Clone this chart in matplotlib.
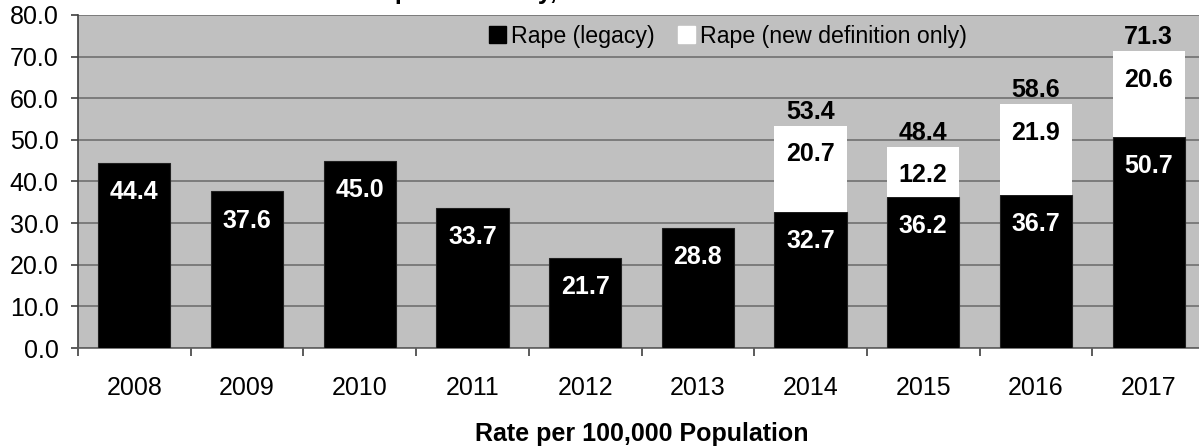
import numpy as np
import matplotlib
matplotlib.use("Agg")
import matplotlib.pyplot as plt
from matplotlib.patches import Patch

plt.rcParams['font.family'] = ['Liberation Sans', 'DejaVu Sans']

years = ["2008", "2009", "2010", "2011", "2012", "2013", "2014", "2015", "2016", "2017"]
legacy = [44.4, 37.6, 45.0, 33.7, 21.7, 28.8, 32.7, 36.2, 36.7, 50.7]
new_def = [0.0, 0.0, 0.0, 0.0, 0.0, 0.0, 20.7, 12.2, 21.9, 20.6]
yticks = [0, 10, 20, 30, 40, 50, 60, 70, 80]
series_names = ["Rape (legacy)", "Rape (new definition only)"]
title_text = "Rape in the City, 2008 to 2017"
xlabel_text = "Rate per 100,000 Population"

W, H = 1199, 446
fig = plt.figure(figsize=(W / 100, H / 100), dpi=100)
ax = fig.add_axes([78 / W, (H - 348) / H, 1127 / W, 333 / H])
ax.set_facecolor('#c0c0c0')

x = np.arange(len(years))
bw = 0.64
legacy_a = np.array(legacy)
new_a = np.array(new_def)

ax.bar(x, legacy_a, width=bw, color='black', edgecolor='#202020', linewidth=0.8, zorder=3)
ax.bar(x, new_a, width=bw, bottom=legacy_a, color='white', edgecolor='white', linewidth=0, zorder=3)

ax.set_xlim(-0.5, len(years) - 0.5)
ax.set_ylim(0, 80)
ax.set_yticks(yticks)
ax.set_yticklabels([f"{v:.1f}" for v in yticks], fontsize=18)
ax.yaxis.grid(True, color='#707070', linewidth=1.2, zorder=1)
ax.set_axisbelow(True)

# x ticks at category boundaries, labels at centers
ax.set_xticks(np.arange(-0.5, len(years), 1.0))
ax.set_xticklabels([])
ax.set_xticks(x, minor=True)
ax.set_xticklabels(years, minor=True, fontsize=18)
ax.tick_params(axis='x', which='major', length=6, width=1.2, color='#404040', direction='out')
ax.tick_params(axis='x', which='minor', length=0, pad=20)
ax.tick_params(axis='y', length=5, width=1.2, color='#404040', pad=9)

for s in ['top', 'right']:
    ax.spines[s].set_visible(False)
ax.spines['left'].set_color('#404040')
ax.spines['bottom'].set_color('#606060')
ax.spines['left'].set_linewidth(1.2)
ax.spines['bottom'].set_linewidth(1.2)

# value labels
for i in range(len(years)):
    ax.annotate(f"{legacy_a[i]:.1f}", (x[i], legacy_a[i]), xytext=(0, -21), textcoords='offset points',
                ha='center', va='center', color='white', fontsize=18, fontweight='bold', zorder=5)
    if new_a[i] > 0:
        top = legacy_a[i] + new_a[i]
        ax.annotate(f"{new_a[i]:.1f}", (x[i], top), xytext=(0, -20.5), textcoords='offset points',
                    ha='center', va='center', color='black', fontsize=18, fontweight='bold', zorder=5)
        ax.annotate(f"{top:.1f}", (x[i], top), xytext=(0, 10), textcoords='offset points',
                    ha='center', va='center', color='black', fontsize=18, fontweight='bold', zorder=5)

handles = [Patch(facecolor='black', edgecolor='black'), Patch(facecolor='white', edgecolor='white')]
ax.legend(handles, series_names, loc='center left', bbox_to_anchor=((489 - 78) / 1127, (348 - 36) / 333),
          ncol=2, frameon=False, fontsize=16.7, handlelength=0.75, handleheight=0.72,
          handletextpad=0.2, columnspacing=1.0, borderpad=0, borderaxespad=0)

ax.set_xlabel(xlabel_text, fontsize=18, fontweight='bold', labelpad=16)

# title sits mostly above the picture, as in the reference (only descenders show)
fig.text(363 / W, (H + 1) / H, title_text, ha='left', va='baseline', fontsize=18, fontweight='bold')

fig.savefig("out.png", dpi=100)
